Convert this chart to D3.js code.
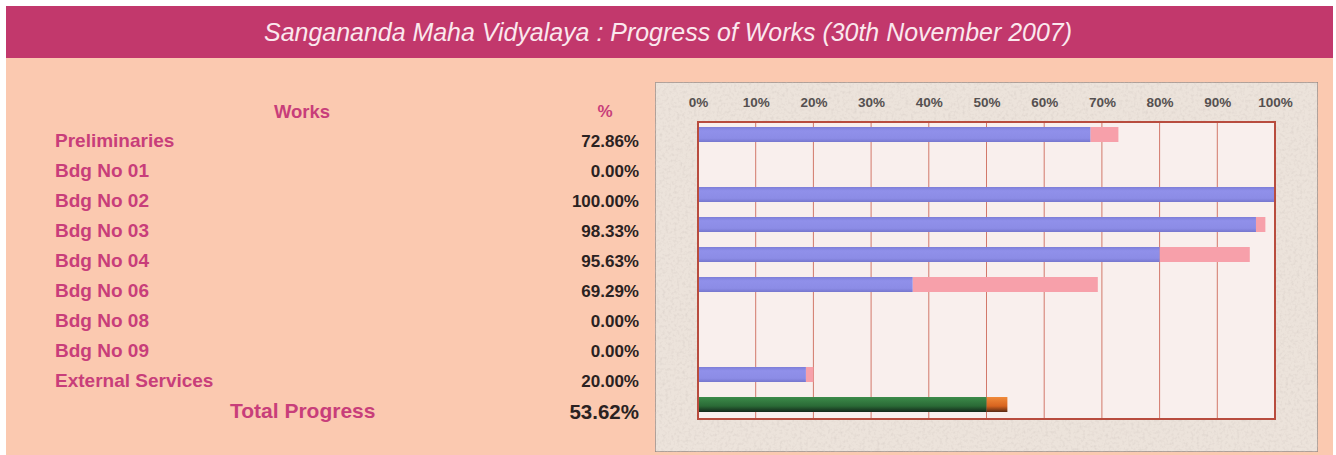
<!DOCTYPE html>
<html>
<head>
<meta charset="utf-8">
<script src="https://cdn.jsdelivr.net/npm/d3@7"></script>
<style>
  body { margin: 0; background: #fff; }
  svg { display: block; }
</style>
</head>
<body>
<div id="chart"></div>
<script>
// works and their progress (%), previous progress drawn as the blue part
const works = ["Preliminaries", "Bdg No 01", "Bdg No 02", "Bdg No 03", "Bdg No 04",
               "Bdg No 06", "Bdg No 08", "Bdg No 09", "External Services", "Total Progress"]
const progress = [72.86, 0, 100, 98.33, 95.63, 69.29, 0, 0, 20.00, 53.62]
const previous = [68, 0, 100, 96.7, 80, 37.2, 0, 0, 18.7, 50]
const ticks = [0, 10, 20, 30, 40, 50, 60, 70, 80, 90, 100]
const title = "Sangananda Maha Vidyalaya : Progress of Works (30th November 2007)"

let width = 1336, height = 455
let svg = d3.select("#chart").append("svg").attr("width", width).attr("height", height)

let defs = svg.append("defs")
let noise = defs.append("filter").attr("id", "stone").attr("x", 0).attr("y", 0).attr("width", 1).attr("height", 1)
noise.append("feTurbulence").attr("type", "fractalNoise").attr("baseFrequency", 0.35).attr("numOctaves", 2).attr("seed", 4).attr("result", "n")
noise.append("feColorMatrix").attr("in", "n").attr("type", "matrix")
  .attr("values", "0 0 0 0 0.6  0 0 0 0 0.54  0 0 0 0 0.5  0 0 0 -0.9 0.5").attr("result", "c")
noise.append("feComposite").attr("in", "c").attr("in2", "SourceGraphic").attr("operator", "over")

let gGreen = defs.append("linearGradient").attr("id", "green").attr("x1", 0).attr("y1", 0).attr("x2", 0).attr("y2", 1)
gGreen.append("stop").attr("offset", "0%").attr("stop-color", "#3d8b4a")
gGreen.append("stop").attr("offset", "60%").attr("stop-color", "#2a6a36")
gGreen.append("stop").attr("offset", "100%").attr("stop-color", "#14281a")
let gOrange = defs.append("linearGradient").attr("id", "orange").attr("x1", 0).attr("y1", 0).attr("x2", 0).attr("y2", 1)
gOrange.append("stop").attr("offset", "0%").attr("stop-color", "#f08a3a")
gOrange.append("stop").attr("offset", "60%").attr("stop-color", "#d8641f")
gOrange.append("stop").attr("offset", "100%").attr("stop-color", "#5a2a14")
let gBlue = defs.append("linearGradient").attr("id", "blue").attr("x1", 0).attr("y1", 0).attr("x2", 0).attr("y2", 1)
gBlue.append("stop").attr("offset", "0%").attr("stop-color", "#7e7ed8")
gBlue.append("stop").attr("offset", "25%").attr("stop-color", "#9090ea")
gBlue.append("stop").attr("offset", "75%").attr("stop-color", "#8c8ce6")
gBlue.append("stop").attr("offset", "100%").attr("stop-color", "#7676ce")

// page background
svg.append("rect").attr("x", 6).attr("y", 57).attr("width", width - 9).attr("height", height - 57).attr("fill", "#fbc9b0")
svg.append("rect").attr("x", 6).attr("y", 6).attr("width", width - 9).attr("height", 52).attr("fill", "#c2386c")
svg.append("text").attr("x", 668).attr("y", 41).attr("text-anchor", "middle")
  .attr("font-family", "'Liberation Sans Narrow', 'Arial Narrow', 'Liberation Sans', Arial, sans-serif")
  .attr("font-style", "italic").attr("font-size", 25).attr("fill", "#fbe8ee")
  .attr("textLength", 808).attr("lengthAdjust", "spacingAndGlyphs")
  .text(title)

// table on the left
let labelColor = "#c83e7a", valueColor = "#2a2222"
let rowY = d3.scalePoint().domain(works).range([140, 410])
let table = svg.append("g").attr("font-family", "'Liberation Sans', Arial, sans-serif").attr("font-weight", "bold")
table.append("text").attr("x", 302).attr("y", 111).attr("text-anchor", "middle").attr("dominant-baseline", "central")
  .attr("font-size", 18.5).attr("fill", labelColor).text("Works")
table.append("text").attr("x", 605).attr("y", 111).attr("text-anchor", "middle").attr("dominant-baseline", "central")
  .attr("font-size", 17).attr("fill", labelColor).text("%")
works.forEach(function (w, i) {
  let total = i === works.length - 1
  table.append("text")
    .attr("x", total ? 230 : 55).attr("y", rowY(w))
    .attr("dominant-baseline", "central")
    .attr("font-size", total ? 21 : 19).attr("fill", labelColor).text(w)
  table.append("text")
    .attr("x", 639).attr("y", rowY(w) + 1)
    .attr("text-anchor", "end").attr("dominant-baseline", "central")
    .attr("font-size", total ? 20.5 : 17).attr("fill", valueColor)
    .text(progress[i].toFixed(2) + "%")
})

// chart panel
svg.append("rect").attr("x", 655).attr("y", 82).attr("width", 663).attr("height", 370)
  .attr("fill", "#ece3db").attr("stroke", "#9a8a84").attr("stroke-width", 1.5).attr("filter", "url(#stone)")

let plot = {left: 698, right: 1275, top: 122, bottom: 419}
let x = d3.scaleLinear().domain([0, 100]).range([plot.left, plot.right])
let y = d3.scaleBand().domain(works).range([119.5, 419.5]).paddingInner(0.5).paddingOuter(0.25)

svg.append("rect").attr("x", plot.left).attr("y", plot.top)
  .attr("width", plot.right - plot.left).attr("height", plot.bottom - plot.top)
  .attr("fill", "#f9efed")

svg.append("g").selectAll("line").data(ticks.slice(1, -1)).join("line")
  .attr("x1", d => x(d)).attr("x2", d => x(d)).attr("y1", plot.top).attr("y2", plot.bottom)
  .attr("stroke", "#d2786a").attr("stroke-width", 1)

let bh = 15
let bars = svg.append("g")
works.forEach(function (w, i) {
  let total = i === works.length - 1
  let cy = y(w) + y.bandwidth() / 2
  if (progress[i] > previous[i]) {
    bars.append("rect").attr("x", x(previous[i])).attr("y", cy - bh / 2)
      .attr("width", x(progress[i]) - x(previous[i])).attr("height", bh)
      .attr("fill", total ? "url(#orange)" : "#f7a0aa")
  }
  if (previous[i] > 0) {
    bars.append("rect").attr("x", x(0)).attr("y", cy - bh / 2)
      .attr("width", x(previous[i]) - x(0)).attr("height", bh)
      .attr("fill", total ? "url(#green)" : "url(#blue)")
  }
})

svg.append("rect").attr("x", plot.left).attr("y", plot.top)
  .attr("width", plot.right - plot.left).attr("height", plot.bottom - plot.top)
  .attr("fill", "none").attr("stroke", "#b84c3e").attr("stroke-width", 2)

let axis = d3.axisTop(x).tickValues(ticks).tickFormat(d => d + "%").tickSize(0).tickPadding(0)
let ax = svg.append("g").attr("transform", "translate(0,107)").call(axis)
ax.select(".domain").remove()
ax.selectAll("text").attr("font-family", "'Liberation Sans', Arial, sans-serif")
  .attr("font-size", 13.5).attr("font-weight", "bold").attr("fill", "#555050")
</script>
</body>
</html>
